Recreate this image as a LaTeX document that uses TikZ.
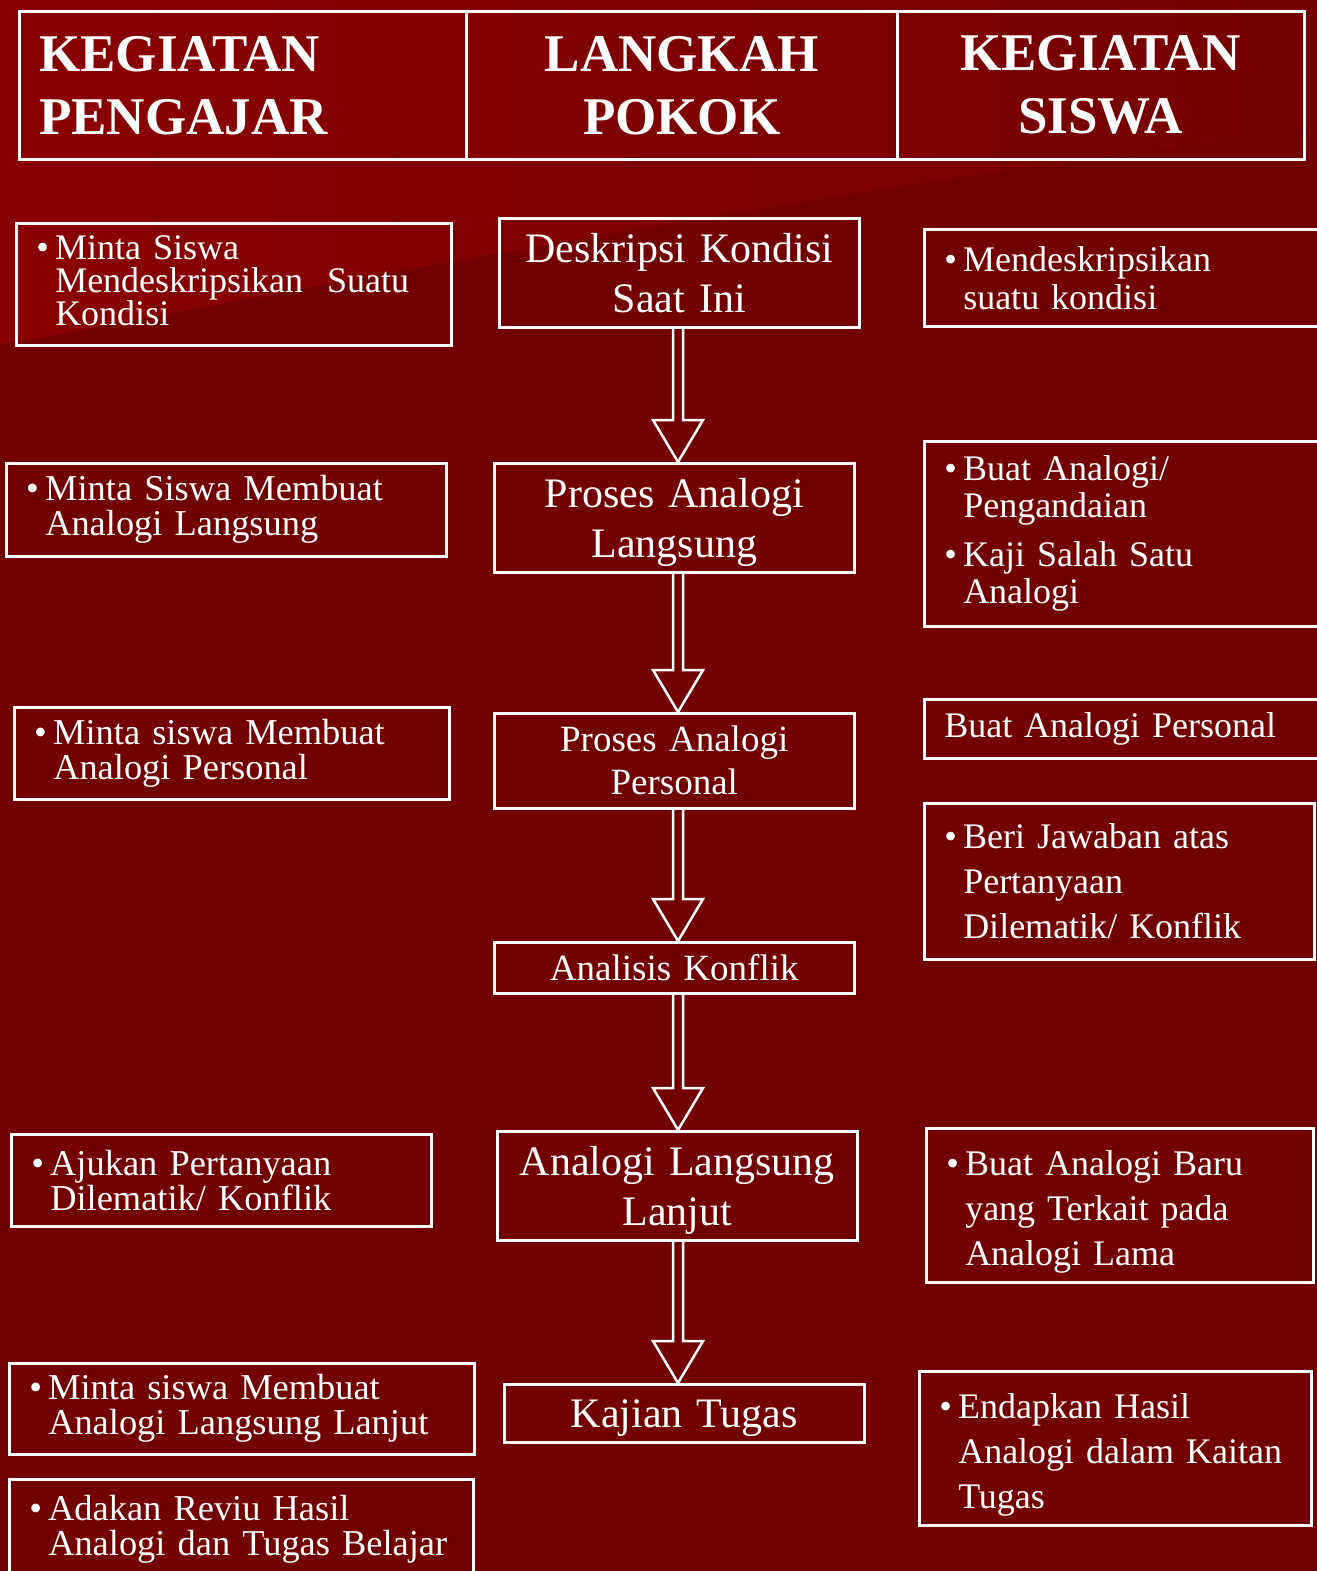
\documentclass[tikz,border=0pt]{standalone}
\usepackage{fontspec}
\setmainfont{Liberation Serif}
\usetikzlibrary{calc}
\definecolor{latar}{HTML}{730000}
\definecolor{terang}{HTML}{8A0000}
\hyphenpenalty=10000
\exhyphenpenalty=10000
\tikzset{
	kotak/.style={draw=white,line width=1.25pt,text=white,anchor=north west,inner ysep=0pt},
	judul/.style={kotak,font=\bfseries\fontsize{26.5}{31.5}\selectfont,minimum height=74pt,inner xsep=10pt},
	pengajar/.style={kotak,align=left,inner xsep=10pt,font=\fontsize{18.2}{17.5}\selectfont},
	langkah/.style={kotak,align=center,inner xsep=4pt,text width=172pt},
	siswa/.style={kotak,align=left,inner xsep=10pt,font=\fontsize{18}{22.5}\selectfont},
	panah/.style={draw=white,line width=1.25pt}
}
\newcommand{\butir}[1]{\hangindent=9.5pt\hangafter=1\noindent\makebox[9.5pt][l]{•}#1\par}
\newcommand{\panahke}[2]{%
	\draw[panah] ($(#1.south -| sumbu)+(-5,0)$) -- ($(#2.north -| sumbu)+(-5,-42)$)
		-- ++(-20,0) -- (#2.north -| sumbu) -- ++(25,-42) -- ++(-20,0)
		-- ($(#1.south -| sumbu)+(5,0)$);}

\begin{document}
\begin{tikzpicture}[x=0.5pt,y=-0.5pt]
	\useasboundingbox (0,0) rectangle (1317,1571);
	\clip (0,0) rectangle (1317,1571);
	\fill[latar] (0,0) rectangle (1317,1571);
	\shade[left color=terang,right color=latar!95!terang] (0,0) -- (1317,0) -- (1317,130)
		.. controls (800,190) and (300,290) .. (0,345) -- cycle;

	\node[judul,align=left,text width=203.5pt] (h1) at (18,10) {KEGIATAN\\PENGAJAR};
	\node[judul,align=center,text width=195.5pt] (h2) at (465,10) {LANGKAH\\POKOK};
	\node[judul,align=center,text width=183.5pt] (h3) at (896,10) {KEGIATAN\\SISWA};

	\node[pengajar,text width=197.5pt,minimum height=61pt,font=\fontsize{18}{16.5}\selectfont] (peng1) at (15,222)
		{\butir{Minta Siswa\newline Mendeskripsikan\ \ Suatu\newline Kondisi}\vspace{4pt}};
	\node[pengajar,text width=200pt,minimum height=46.5pt] (peng2) at (5,462)
		{\butir{Minta Siswa Membuat\newline Analogi Langsung}};
	\node[pengajar,text width=197.5pt,minimum height=46pt] (peng3) at (13,706)
		{\butir{Minta siswa Membuat\newline Analogi Personal}};
	\node[pengajar,text width=190pt,minimum height=46pt] (peng4) at (10,1133)
		{\butir{Ajukan Pertanyaan\newline Dilematik/ Konflik}};
	\node[pengajar,text width=212.5pt,minimum height=45.5pt] (peng5) at (8,1362)
		{\butir{Minta siswa Membuat\newline Analogi Langsung Lanjut}};
	\node[pengajar,text width=212pt,minimum height=50pt] (peng6) at (8,1478)
		{\butir{\mbox{Adakan Reviu Hasil}\newline\mbox{Analogi dan Tugas Belajar}}};

	\node[langkah,minimum height=54.5pt,font=\fontsize{21}{25}\selectfont] (lang1) at (498,217) {Deskripsi Kondisi\\Saat Ini};
	\node[langkah,minimum height=54.5pt,font=\fontsize{21}{25}\selectfont] (lang2) at (493,462) {Proses Analogi\\Langsung\par\vspace{-5pt}};
	\node[langkah,minimum height=47.5pt,font=\fontsize{18.5}{21.5}\selectfont] (lang3) at (493,712) {Proses Analogi\\Personal};
	\node[langkah,minimum height=25.5pt,font=\fontsize{18.5}{21.5}\selectfont] (lang4) at (493,941) {Analisis Konflik};
	\node[langkah,minimum height=54.5pt,font=\fontsize{21}{25}\selectfont] (lang5) at (496,1130) {Analogi Langsung\\Lanjut\par\vspace{-5pt}};
	\node[langkah,minimum height=29pt,font=\fontsize{21}{25}\selectfont] (lang6) at (503,1383) {Kajian Tugas\par\vspace{-7pt}};

	\node[siswa,text width=187pt,minimum height=48.5pt,font=\fontsize{18}{19}\selectfont] (sis1) at (923,228)
		{\butir{Mendeskripsikan\newline suatu kondisi}};
	\node[siswa,text width=187pt,minimum height=92.5pt,font=\fontsize{18}{18.5}\selectfont] (sis2) at (923,440)
		{\butir{Buat Analogi/\newline Pengandaian}\vspace{6pt}\butir{Kaji Salah Satu\newline Analogi}};
	\node[siswa,text width=190pt,minimum height=29.5pt] (sis3) at (923,698)
		{Buat Analogi Personal};
	\node[siswa,text width=175pt,minimum height=78pt] (sis4) at (923,802)
		{\butir{Beri Jawaban atas\newline Pertanyaan\newline Dilematik/ Konflik}};
	\node[siswa,text width=173.5pt,minimum height=77pt] (sis5) at (925,1127)
		{\butir{Buat Analogi Baru\newline yang Terkait pada\newline Analogi Lama}\vspace{-7pt}};
	\node[siswa,text width=176pt,minimum height=77pt] (sis6) at (918,1370)
		{\butir{Endapkan Hasil\newline Analogi dalam Kaitan\newline Tugas}\vspace{-7pt}};

	\coordinate (sumbu) at (678,0);
	\panahke{lang1}{lang2}
	\panahke{lang2}{lang3}
	\panahke{lang3}{lang4}
	\panahke{lang4}{lang5}
	\panahke{lang5}{lang6}
\end{tikzpicture}
\end{document}
